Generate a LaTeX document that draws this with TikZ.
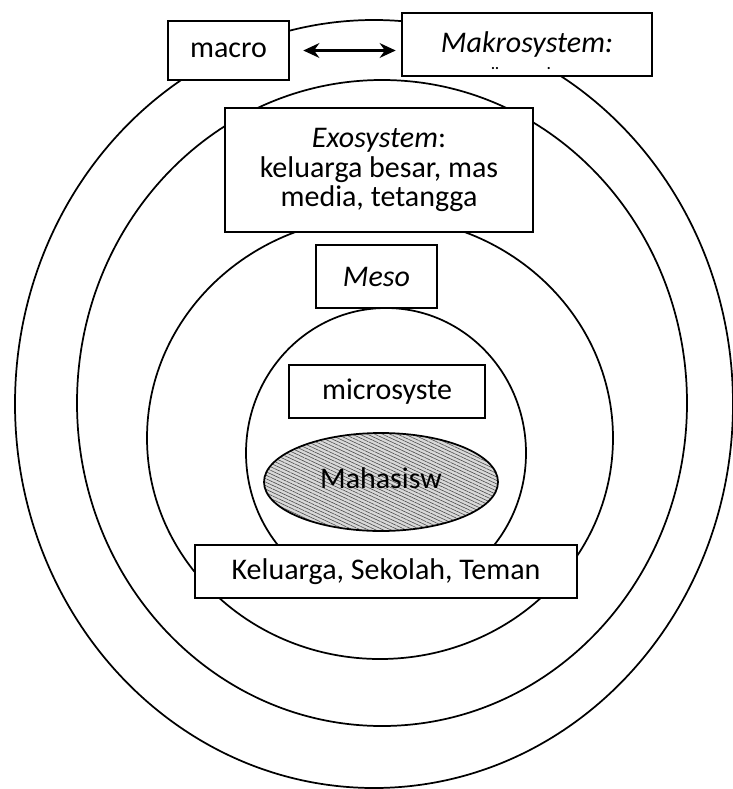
\documentclass[tikz,border=0pt]{standalone}
\usepackage{fontspec}
\setmainfont{Carlito}
\usetikzlibrary{shapes.geometric,arrows.meta,patterns.meta}

\begin{document}
\begin{tikzpicture}[x=0.75pt,y=-0.75pt,
   every node/.style={font=\fontsize{22.5}{22}\selectfont},
   ring/.style={line width=1.3pt},
   box/.style={draw,fill=white,line width=1.4pt,inner sep=0pt,align=center},
   hatched/.style={draw,ellipse,line width=1.3pt,inner sep=0pt,
     preaction={fill=gray!30},
     pattern={Lines[angle=-25,distance=2.4pt,line width=0.45pt]},
     pattern color=black!70}]
\useasboundingbox (0,0) rectangle (732,789);
% lingkaran sistem
\draw[ring] (374,404) ellipse [x radius=359,y radius=384];
\draw[ring] (382,403) ellipse [x radius=305,y radius=323];
\draw[ring] (380,438) ellipse [x radius=233,y radius=221];
\draw[ring] (386,453) ellipse [x radius=140,y radius=145];
% kotak label
\node[box,minimum width=90.75pt,minimum height=44.25pt] (macro) at (228.5,50.5) {macro};
\node[box,minimum width=187.5pt,minimum height=47.25pt] (makro) at (527,44.5) {\textit{Makrosystem:}};
\node[font=\fontsize{11}{11}\selectfont\bfseries,inner sep=0pt,text height=2pt,text depth=0pt]
   (makrodots) at (521,68) {..\hspace{36pt}.};
\node[box,minimum width=231pt,minimum height=93pt] (exo) at (379,170)
   {\textit{Exosystem}:\\keluarga besar, mas\\media, tetangga};
\node[box,minimum width=90.75pt,minimum height=47.25pt] (meso) at (376.5,276.5) {\textit{Meso}};
\node[box,minimum width=147pt,minimum height=39.75pt] (micro) at (387,391.5) {microsyste};
\node[hatched,minimum width=175.5pt,minimum height=73.5pt] (mhs) at (381,482) {\raisebox{6pt}{Mahasisw}};
\node[box,minimum width=286.5pt,minimum height=39.75pt] (klg) at (386,571.5) {Keluarga, Sekolah, Teman};
% panah
\draw[line width=2pt,{Stealth[length=12pt,width=11pt]}-{Stealth[length=12pt,width=11pt]},
   shorten <=10pt,shorten >=4pt] (macro.east) -- (macro.east -| makro.west);
\end{tikzpicture}
\end{document}
